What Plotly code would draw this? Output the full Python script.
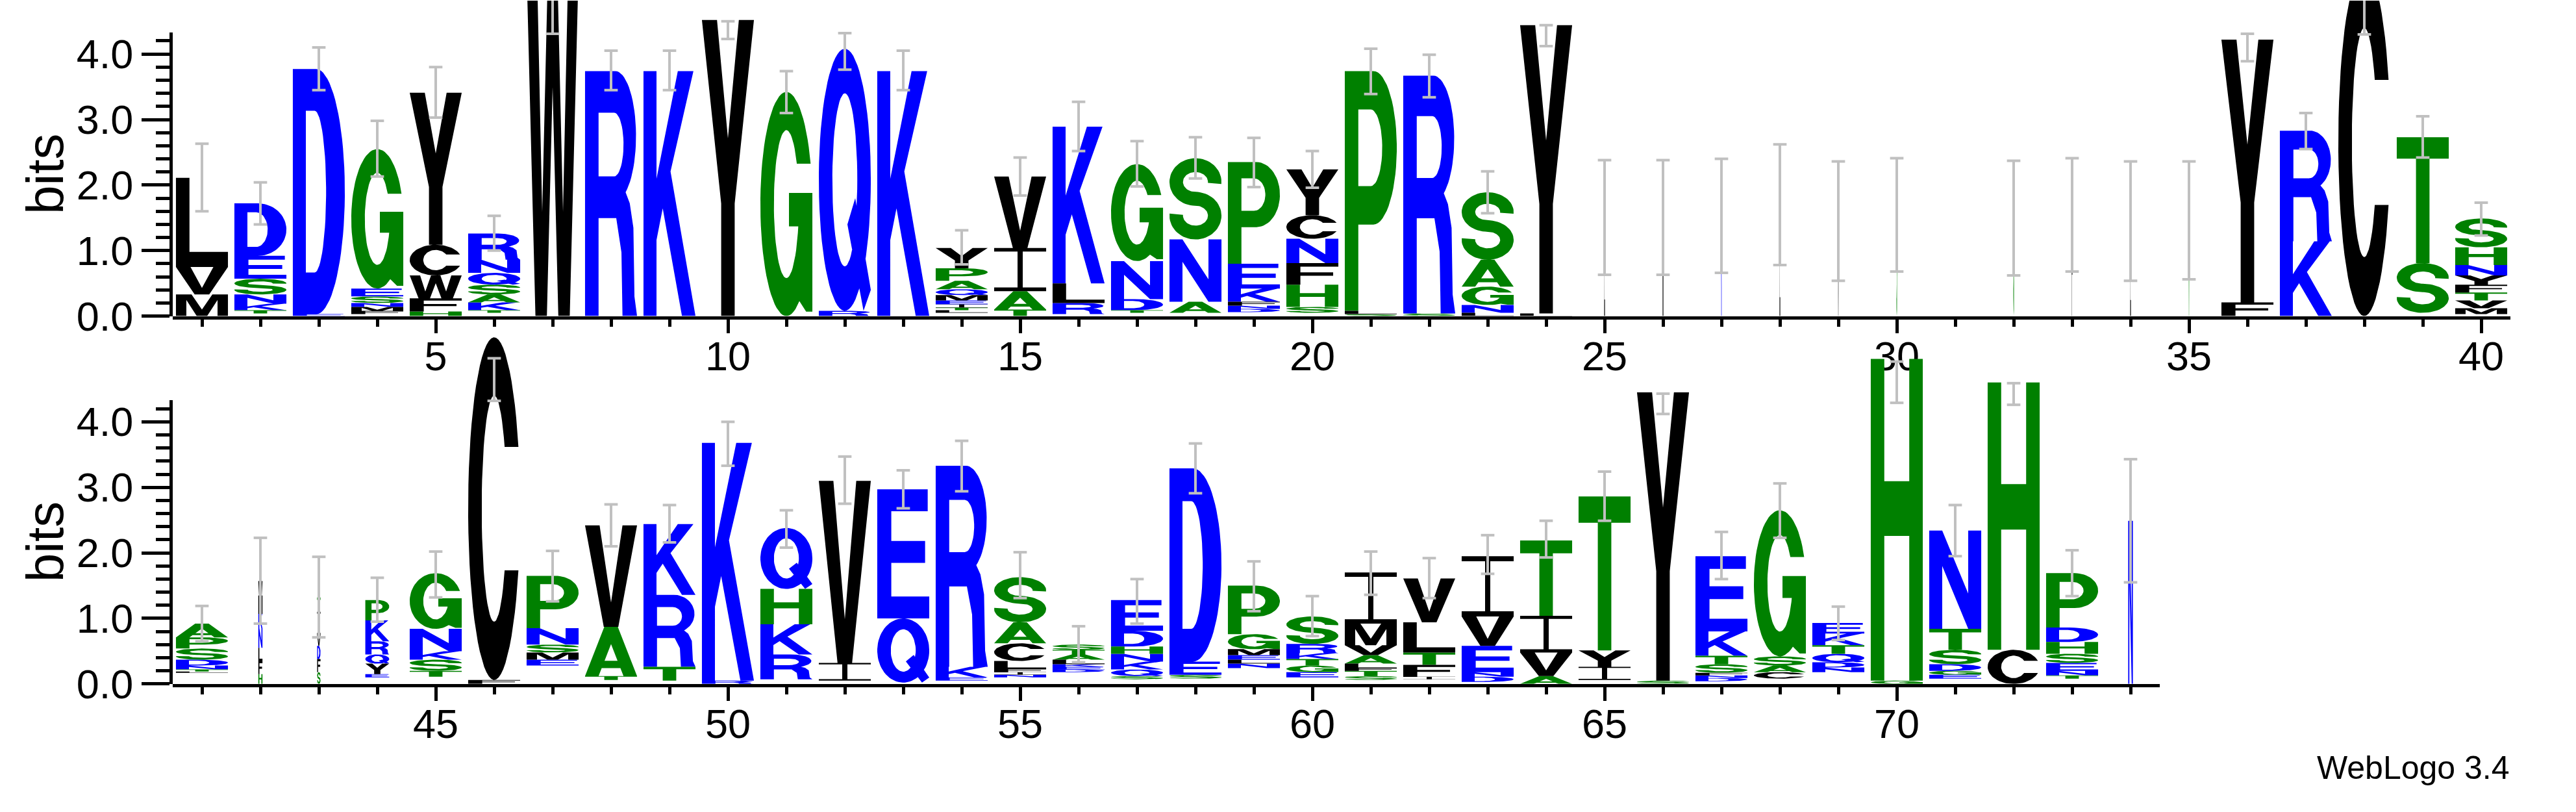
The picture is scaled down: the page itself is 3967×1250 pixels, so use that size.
import numpy as np
import plotly.graph_objects as go

# ------------------------------------------------------------------ data
positions = list(range(1, 75))

# letters of each stack, bottom -> top (" " = residues too small to be drawn)
stack_letters = [
    "MVL", " TKNSED", "ED", " FMNSEG", "HFWCY", " TKASQNR", "W", "R", "K", "Y",
    "G", "RQ", "K", " LTIEMQAPY", "TAIV", " RLK", " TDNG", " ANS", " DNFKEP", " SHFNCY",
    "SLP", "SR", "LNGAS", "LY", "L", "I", "K", "L", "V", "S",
    "", "G", "F", "L", "T", "FY", "KR", "C", " ST", " MVTFYNHS",
    " LTNDSPA", "HFLNKMW", "SFDVIT", " EYQRKP", " TSKNG", "FC", " EMSNP", " TAV", " TRK", "RK",
    " RKHQ", " IV", " QE", " EKR", " NIFLCAS", " DEKLATS", " SQKNHDE", " SED", " NLEMGP", " EGTKRS",
    " STFLAVMI", " IFTLV", " DNEVI", "AVIT", " IYT", "SY", " DNFSTKE", " CASG", " NDQTKE", "GH",
    " EGDSTN", "CH", " TNESHDP", "N",
]
# heights (bits) of the letters above, same order
stack_bits = [
    [0.33, 0.42, 1.36], [0.04, 0.05, 0.10, 0.14, 0.24, 0.35, 0.80], [0.03, 3.74],
    [0.03, 0.05, 0.06, 0.06, 0.10, 0.12, 2.13], [0.07, 0.20, 0.35, 0.47, 2.32],
    [0.05, 0.04, 0.12, 0.12, 0.15, 0.18, 0.20, 0.40], [5.30], [3.74], [3.74], [4.52],
    [3.42], [0.08, 4.00], [3.74], [0.05, 0.04, 0.04, 0.05, 0.06, 0.08, 0.09, 0.13, 0.19, 0.31],
    [0.10, 0.28, 0.66, 1.09], [0.03, 0.17, 0.30, 2.39], [0.05, 0.04, 0.17, 0.58, 1.48],
    [0.05, 0.17, 0.95, 1.24], [0.06, 0.05, 0.05, 0.06, 0.20, 0.38, 1.55],
    [0.05, 0.09, 0.34, 0.33, 0.37, 0.36, 0.70],
    [0.03, 0.05, 3.66], [0.04, 3.63], [0.05, 0.12, 0.28, 0.41, 1.03], [0.04, 4.40],
    [1.50], [1.49], [1.52], [1.69], [1.45], [1.54],
    [], [1.49], [1.54], [1.45], [1.45], [0.21, 4.01], [1.14, 1.69], [5.30], [0.05, 0.76, 1.92],
    [0.03, 0.09, 0.12, 0.12, 0.12, 0.14, 0.16, 0.27, 0.44],
    [0.17, 0.02, 0.03, 0.06, 0.09, 0.17, 0.17, 0.21], [0.15, 0.20, 0.20, 0.30, 0.22, 0.28, 0.22],
    [0.18, 0.20, 0.20, 0.17, 0.35, 0.22], [0.10, 0.05, 0.16, 0.14, 0.20, 0.32, 0.31],
    [0.11, 0.09, 0.17, 0.13, 0.34, 0.85], [0.06, 5.23], [0.28, 0.09, 0.11, 0.12, 0.25, 0.80],
    [0.06, 0.06, 0.75, 1.55], [0.05, 0.21, 1.10, 1.08], [0.05, 3.63],
    [0.07, 0.38, 0.46, 0.54, 0.93], [0.05, 0.27, 2.78], [0.02, 0.98, 1.97], [0.05, 0.05, 0.16, 3.07],
    [0.10, 0.04, 0.04, 0.05, 0.12, 0.27, 0.32, 0.69], [0.18, 0.04, 0.04, 0.04, 0.07, 0.08, 0.07, 0.08],
    [0.07, 0.05, 0.10, 0.12, 0.12, 0.11, 0.24, 0.47], [0.08, 0.06, 0.20, 2.95],
    [0.24, 0.07, 0.06, 0.07, 0.09, 0.23, 0.74], [0.10, 0.08, 0.10, 0.10, 0.09, 0.14, 0.42],
    [0.06, 0.06, 0.08, 0.04, 0.07, 0.13, 0.15, 0.33, 0.78], [0.07, 0.04, 0.18, 0.19, 0.46, 0.67],
    [0.03, 0.08, 0.07, 0.40, 0.45, 0.92], [0.12, 0.36, 0.56, 1.15], [0.06, 0.20, 0.25, 2.35],
    [0.05, 4.40], [0.04, 0.05, 0.04, 0.04, 0.13, 0.13, 0.37, 1.15], [0.08, 0.10, 0.10, 0.14, 2.23],
    [0.18, 0.07, 0.08, 0.13, 0.13, 0.18, 0.16], [0.05, 4.91],
    [0.08, 0.06, 0.06, 0.10, 0.22, 0.32, 1.50], [0.52, 4.08],
    [0.08, 0.05, 0.07, 0.12, 0.14, 0.18, 0.22, 0.83], [2.49],
]
# fraction of the full stack width (gappy columns are narrow)
column_width = [1.0] * 24 + [0.015] * 11 + [1.0] * 6 + [0.08, 0.065, 0.46] + [1.0] * 29 + [0.09]

# error bar ends (bits)
err_lo = [1.60, 1.40, 3.45, 2.13, 3.03, 1.00, 4.31, 3.45, 3.45, 4.23,
          3.10, 3.76, 3.45, 0.79, 1.84, 2.52, 1.98, 2.10, 1.97, 1.96,
          3.39, 3.34, 1.57, 4.12, 0.63, 0.63, 0.66, 0.78, 0.54, 0.68,
          None, 0.62, 0.68, 0.54, 0.56, 3.89, 2.55, 4.30, 2.42, 1.23,
          0.65, 0.92, 0.71, 0.95, 1.32, 4.32, 1.26, 2.10, 2.16, 3.33,
          2.08, 2.75, 2.68, 2.94, 1.31, 0.33, 0.92, 2.91, 1.11, 0.73,
          1.36, 1.31, 1.68, 1.93, 2.49, 4.12, 1.60, 2.23, 0.67, 4.29,
          1.95, 4.26, 1.34, 1.55]
err_hi = [2.63, 2.04, 4.10, 2.98, 3.80, 1.53, 4.98, 4.05, 4.05, 4.50,
          3.74, 4.32, 4.05, 1.31, 2.42, 3.27, 2.67, 2.73, 2.72, 2.52,
          4.08, 3.99, 2.21, 4.44, 2.38, 2.38, 2.40, 2.62, 2.36, 2.41,
          None, 2.37, 2.41, 2.36, 2.36, 4.31, 3.10, 4.98, 3.05, 1.73,
          1.19, 2.23, 1.94, 1.62, 2.02, 4.97, 2.03, 2.74, 2.73, 4.00,
          2.65, 3.47, 3.26, 3.71, 2.01, 0.88, 1.60, 3.67, 1.87, 1.34,
          2.02, 1.92, 2.27, 2.49, 3.24, 4.43, 2.32, 3.06, 1.18, 4.92,
          2.73, 4.59, 2.04, 3.43]

top_positions = [p for p in positions if p <= 40]
bottom_positions = [p for p in positions if p > 40]
top_ticks = [5, 10, 15, 20, 25, 30, 35, 40]
bottom_ticks = [45, 50, 55, 60, 65, 70]
y_ticks = [0, 1, 2, 3, 4]
y_tick_text = ["0.0", "1.0", "2.0", "3.0", "4.0"]

# hydrophobicity colour scheme
colour_groups = {
    "#0000FF": "RKDENQ",
    "#008000": "SGHTAP",
    "#000000": "YVMCLFIW",
}

# ------------------------------------------------------------------ glyphs (unit box)
def arc(cx, cy, rx, ry, a0, a1, n=40):
    t = np.radians(np.linspace(a0, a1, n))
    return list(zip(cx + rx * np.cos(t), cy + ry * np.sin(t)))


RIX, RIY = 0.24, 0.33


def g_A():
    return [[(0, 0), (0.26, 0), (0.32, 0.16), (0.68, 0.16), (0.74, 0), (1, 0), (0.63, 1), (0.37, 1)]], \
           [[(0.375, 0.31), (0.625, 0.31), (0.5, 0.65)]]


def g_C():
    to = np.degrees(np.arcsin(0.36))
    ti = np.degrees(np.arcsin(0.18 / RIY))
    return [arc(0.5, 0.5, 0.5, 0.5, to, 360 - to, 60) + arc(0.5, 0.5, RIX, RIY, 360 - ti, ti, 50)], []


def g_D():
    outer = [(0, 0), (0, 1), (0.45, 1)] + arc(0.45, 0.5, 0.55, 0.5, 90, -90, 40)[1:-1] + [(0.45, 0)]
    hole = [(0.25, 0.17), (0.25, 0.83), (0.42, 0.83)] + arc(0.42, 0.5, 0.22, 0.33, 90, -90, 32)[1:-1] + [(0.42, 0.17)]
    return [outer], [hole]


def g_G():
    to = np.degrees(np.arcsin(0.36))
    ti = np.degrees(np.arcsin(0.18 / RIY))
    tb = np.degrees(np.arcsin(-0.1 / RIY))
    outer = arc(0.5, 0.5, 0.5, 0.5, to, 300, 60) + [(0.88, 0.02), (1, 0.02), (1, 0.55), (0.55, 0.55), (0.55, 0.4)]
    outer += arc(0.5, 0.5, RIX, RIY, tb, ti - 360, 60)
    return [outer], []


def g_P():
    outer = [(0, 0), (0, 1), (0.55, 1)] + arc(0.55, 0.68, 0.45, 0.32, 90, -90, 32)[1:-1] + [(0.55, 0.36), (0.26, 0.36), (0.26, 0)]
    hole = [(0.26, 0.52), (0.26, 0.84), (0.5, 0.84)] + arc(0.5, 0.68, 0.22, 0.16, 90, -90, 24)[1:-1] + [(0.5, 0.52)]
    return [outer], [hole]


def g_Q():
    ring = arc(0.5, 0.5, 0.5, 0.5, 0, 360, 72)[:-1]
    hole = arc(0.5, 0.5, RIX, RIY, 0, 360, 60)[:-1]
    tail = [(0.55, 0.33), (0.70, 0.43), (1.0, 0.08), (0.86, 0.0)]
    return [ring, tail], [hole]


def g_R():
    outer = [(0, 0), (0, 1), (0.58, 1)] + arc(0.58, 0.735, 0.4, 0.265, 90, -60, 30)[1:] + \
            [(0.86, 0.46), (0.93, 0.36), (0.95, 0.08), (1.0, 0), (0.72, 0), (0.7, 0.26), (0.6, 0.4), (0.26, 0.4), (0.26, 0)]
    hole = [(0.26, 0.57), (0.26, 0.83), (0.56, 0.83)] + arc(0.56, 0.7, 0.18, 0.13, 90, -90, 24)[1:-1] + [(0.56, 0.57)]
    return [outer], [hole]


def g_S():
    ty, tx = 0.085, 0.13
    cu, cl, ry, rx = 0.7075, 0.2925, 0.2075, 0.37
    ts, te = -5, -185
    pts = arc(0.5, cu, rx + tx, ry + ty, ts, 270, 50)
    pts += arc(0.5, cl, rx - tx, ry - ty, 90, te, 50)[1:]
    pts += arc(0.5, cl, rx + tx, ry + ty, te, 90, 50)
    pts += arc(0.5, cu, rx - tx, ry - ty, 270, ts, 50)[1:]
    return [pts], []


POLY = {
    "E": [(0, 0), (0, 1), (0.97, 1), (0.97, 0.83), (0.27, 0.83), (0.27, 0.6), (0.92, 0.6), (0.92, 0.43),
          (0.27, 0.43), (0.27, 0.17), (1, 0.17), (1, 0)],
    "F": [(0, 0), (0, 1), (1, 1), (1, 0.83), (0.27, 0.83), (0.27, 0.57), (0.9, 0.57), (0.9, 0.41), (0.27, 0.41), (0.27, 0)],
    "H": [(0, 0), (0, 1), (0.26, 1), (0.26, 0.62), (0.74, 0.62), (0.74, 1), (1, 1), (1, 0), (0.74, 0), (0.74, 0.45),
          (0.26, 0.45), (0.26, 0)],
    "I": [(0, 0), (0, 0.085), (0.45, 0.085), (0.45, 0.915), (0, 0.915), (0, 1), (1, 1), (1, 0.915), (0.55, 0.915),
          (0.55, 0.085), (1, 0.085), (1, 0)],
    "K": [(0, 0), (0, 1), (0.25, 1), (0.25, 0.56), (0.66, 1), (0.96, 1), (0.52, 0.59), (1, 0), (0.74, 0),
          (0.37, 0.44), (0.25, 0.31), (0.25, 0)],
    "L": [(0, 0), (0, 1), (0.26, 1), (0.26, 0.17), (1, 0.17), (1, 0)],
    "M": [(0, 0), (0, 1), (0.3, 1), (0.5, 0.3), (0.7, 1), (1, 1), (1, 0), (0.8, 0), (0.8, 0.75), (0.6, 0),
          (0.4, 0), (0.2, 0.75), (0.2, 0)],
    "N": [(0, 0), (0, 1), (0.25, 1), (0.75, 0.36), (0.75, 1), (1, 1), (1, 0), (0.75, 0), (0.25, 0.64), (0.25, 0)],
    "T": [(0.37, 0), (0.37, 0.83), (0, 0.83), (0, 1), (1, 1), (1, 0.83), (0.63, 0.83), (0.63, 0)],
    "V": [(0, 1), (0.28, 1), (0.5, 0.24), (0.72, 1), (1, 1), (0.64, 0), (0.36, 0)],
    "W": [(0, 1), (0.2, 1), (0.3, 0.3), (0.41, 1), (0.59, 1), (0.7, 0.3), (0.8, 1), (1, 1), (0.83, 0), (0.61, 0),
          (0.5, 0.66), (0.39, 0), (0.17, 0)],
    "Y": [(0, 1), (0.29, 1), (0.5, 0.6), (0.71, 1), (1, 1), (0.63, 0.38), (0.63, 0), (0.37, 0), (0.37, 0.38)],
}


def signed_area(c):
    a = 0.0
    for (x0, y0), (x1, y1) in zip(c, c[1:] + c[:1]):
        a += x0 * y1 - x1 * y0
    return a / 2


def oriented(c, sign):
    c = list(c)
    return c if signed_area(c) * sign > 0 else c[::-1]


GLYPHS = {k: ([v], []) for k, v in POLY.items()}
GLYPHS.update({"A": g_A(), "C": g_C(), "D": g_D(), "G": g_G(), "P": g_P(), "Q": g_Q(), "R": g_R(), "S": g_S()})
for k, (outs, holes) in list(GLYPHS.items()):
    GLYPHS[k] = [oriented(c, 1) for c in outs] + [oriented(c, -1) for c in holes]

letter_colour = {ch: col for col, chars in colour_groups.items() for ch in chars}
FULL_W = 0.89   # letter width as a fraction of one column
CAP = 0.115     # half width of error bar caps

# ------------------------------------------------------------------ figure
fig = go.Figure()


def panel(pos_list, xa, ya):
    paths = {col: ([], []) for col in colour_groups}
    for p in pos_list:
        i = p - 1
        w = FULL_W * column_width[i]
        y0 = 0.0
        for ch, h in zip(stack_letters[i], stack_bits[i]):
            if ch != " ":
                xs, ys = paths[letter_colour[ch]]
                for contour in GLYPHS[ch]:
                    for u, v in contour:
                        xs.append(p + (u - 0.5) * w)
                        ys.append(y0 + v * h)
                    xs.append(None)
                    ys.append(None)
            y0 += h
    for col, (xs, ys) in paths.items():
        fig.add_trace(go.Scatter(x=xs, y=ys, mode="lines", fill="toself", fillcolor=col,
                                 line=dict(width=0, color=col), hoverinfo="skip", showlegend=False,
                                 xaxis=xa, yaxis=ya))
    ex, ey = [], []
    for p in pos_list:
        lo, hi = err_lo[p - 1], err_hi[p - 1]
        if lo is None:
            continue
        ex += [p, p, None, p - CAP, p + CAP, None, p - CAP, p + CAP, None]
        ey += [lo, hi, None, lo, lo, None, hi, hi, None]
    fig.add_trace(go.Scatter(x=ex, y=ey, mode="lines", line=dict(color="#C0C0C0", width=4),
                             hoverinfo="skip", showlegend=False, xaxis=xa, yaxis=ya))


panel(top_positions, "x", "y")
panel(bottom_positions, "x2", "y2")
# empty traces so the two visible bit axes are drawn
fig.add_trace(go.Scatter(x=[None], y=[None], xaxis="x", yaxis="y3", showlegend=False, hoverinfo="skip"))
fig.add_trace(go.Scatter(x=[None], y=[None], xaxis="x2", yaxis="y4", showlegend=False, hoverinfo="skip"))

W, H = 3967, 1250
BIT = 103.85          # pixels per bit
TOP0, BOT0 = 500, 1083
XL, XR_TOP, XR_BOT = 266, 3866, 3326
AX_TOP = 4.33
FONT = "Liberation Sans, Arial, Helvetica, sans-serif"


def py(v):
    return 1 - v / H


tickfont = dict(family=FONT, size=63, color="black")
minor_y = [round(0.2 * k, 1) for k in range(1, 22) if k % 5]


def xaxis(dom_r, rng, anchor, ticks, pos_list):
    return dict(domain=[XL / W, dom_r / W], range=rng, anchor=anchor, showline=True, linewidth=5,
                linecolor="black", ticks="outside", tickvals=ticks, ticklen=21, tickwidth=5,
                tickcolor="black", tickfont=tickfont, ticklabelstandoff=-18, showgrid=False, zeroline=False,
                minor=dict(tickvals=[p for p in pos_list if p % 5], ticklen=11, tickwidth=5,
                           tickcolor="black", ticks="outside", showgrid=False))


def bitaxis(zero, anchor):
    return dict(domain=[py(zero), py(zero - AX_TOP * BIT)], range=[0, AX_TOP], anchor=anchor,
                showline=True, linewidth=5, linecolor="black", ticks="outside", tickvals=y_ticks,
                ticktext=y_tick_text, ticklen=43, tickwidth=5, tickcolor="black", tickfont=tickfont,
                showgrid=False, zeroline=False,
                minor=dict(tickvals=minor_y, ticklen=21, tickwidth=5, tickcolor="black",
                           ticks="outside", showgrid=False))


fig.update_layout(
    width=W, height=H, margin=dict(l=0, r=0, t=0, b=0),
    paper_bgcolor="white", plot_bgcolor="rgba(0,0,0,0)",
    xaxis=xaxis(XR_TOP, [0.5, 40.5], "y", top_ticks, top_positions),
    xaxis2=xaxis(XR_BOT, [40.5, 74.5], "y2", bottom_ticks, bottom_positions),
    yaxis=dict(domain=[py(TOP0), 1], range=[0, TOP0 / BIT], visible=False, anchor="x"),
    yaxis2=dict(domain=[py(BOT0), py(BOT0 - 5.45 * BIT)], range=[0, 5.45], visible=False, anchor="x2"),
    yaxis3=bitaxis(TOP0, "x"),
    yaxis4=bitaxis(BOT0, "x2"),
    annotations=[
        dict(text="bits", x=69 / W, y=py(275), xref="paper", yref="paper", textangle=-90,
             xanchor="center", yanchor="middle", showarrow=False,
             font=dict(family=FONT, size=80, color="black")),
        dict(text="bits", x=69 / W, y=py(858), xref="paper", yref="paper", textangle=-90,
             xanchor="center", yanchor="middle", showarrow=False,
             font=dict(family=FONT, size=80, color="black")),
        dict(text="WebLogo 3.4", x=3867 / W, y=py(1216), xref="paper", yref="paper",
             xanchor="right", yanchor="middle", showarrow=False,
             font=dict(family=FONT, size=50, color="black")),
    ],
)

fig.write_html("out.html", config={"displayModeBar": False},
               post_script="document.body.style.margin='0px';")
